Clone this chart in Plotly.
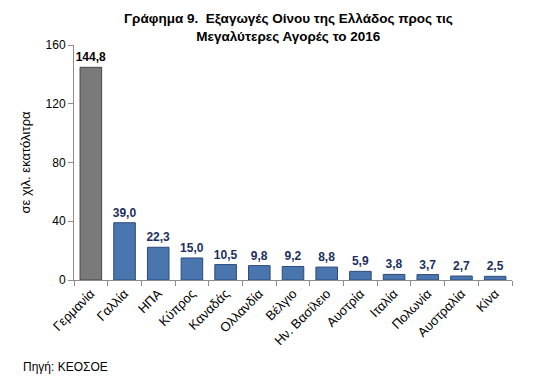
import plotly.graph_objects as go

categories = ["Γερμανία", "Γαλλία", "ΗΠΑ", "Κύπρος", "Καναδάς", "Ολλανδία", "Βέλγιο",
              "Ην. Βασίλειο", "Αυστρία", "Ιταλία", "Πολωνία", "Αυστραλία", "Κίνα"]
values = [144.8, 39.0, 22.3, 15.0, 10.5, 9.8, 9.2, 8.8, 5.9, 3.8, 3.7, 2.7, 2.5]
y_ticks = [0, 40, 80, 120, 160]

colors = ["#7a7a7a"] + ["#4a76b0"] * (len(values) - 1)
line_colors = ["#454545"] + ["#2b4a78"] * (len(values) - 1)
label_colors = ["#000000"] + ["#1c2f5e"] * (len(values) - 1)
labels = [f"{v:.1f}".replace(".", ",") for v in values]

fig = go.Figure()
fig.add_trace(go.Bar(
    x=categories, y=values,
    marker=dict(color=colors, line=dict(color=line_colors, width=1)),
    text=labels, textposition="outside", cliponaxis=False, constraintext="none",
    textfont=dict(family="Liberation Sans, Arial", size=12, color=label_colors),
    texttemplate="<b>%{text}</b>",
    showlegend=False,
))

fig.update_layout(
    width=547, height=384,
    margin=dict(l=66, r=43, t=37, b=112),
    paper_bgcolor="white", plot_bgcolor="white",
    bargap=0.36,
    font=dict(family="Liberation Sans, Arial", color="#000000"),
    xaxis=dict(
        type="category", showline=True, linecolor="#8c8c8c", linewidth=1,
        ticks="outside", tickson="boundaries", ticklen=5, tickcolor="#8c8c8c",
        tickangle=-45, tickfont=dict(size=13, color="#000000"),
        showgrid=False, automargin=False,
    ),
    yaxis=dict(
        range=[0, 160], tickvals=y_ticks, showline=True, linecolor="#8c8c8c",
        linewidth=1, ticks="outside", ticklen=5, tickcolor="#8c8c8c",
        tickfont=dict(size=12, color="#000000"), showgrid=False, zeroline=False,
        automargin=False,
        title=dict(text="σε χιλ. εκατόλιτρα", font=dict(size=13, color="#000000"), standoff=12),
    ),
    annotations=[
        dict(
            text="<b>Γράφημα 9.  Εξαγωγές Οίνου της Ελλάδος προς τις<br>Μεγαλύτερες Αγορές το 2016</b>",
            xref="paper", yref="paper", x=0.49, y=1.155, xanchor="center", yanchor="top",
            showarrow=False, align="center",
            font=dict(size=13.5, color="#000000"),
        ),
        dict(
            text="Πηγή: ΚΕΟΣΟΕ", xref="paper", yref="paper", x=-0.12, y=-0.33,
            xanchor="left", yanchor="top", showarrow=False,
            font=dict(size=12, color="#000000"),
        ),
    ],
)

fig.write_html("out.html")
